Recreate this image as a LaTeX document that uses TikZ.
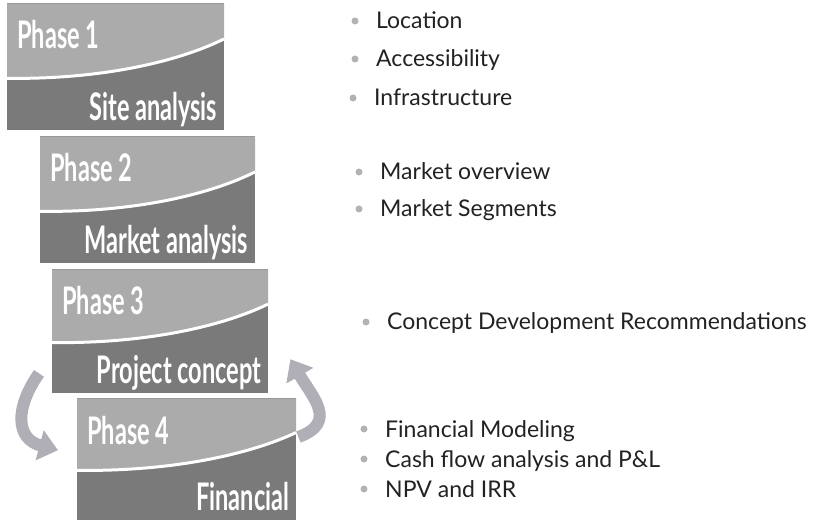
\documentclass[tikz,border=0pt]{standalone}
\usepackage{fontspec}
\setmainfont{Lato}
\newfontfamily\phasefont[FakeStretch=0.62]{Lato}
\usetikzlibrary{arrows.meta}
\definecolor{lightband}{HTML}{ABABAB}
\definecolor{darkband}{HTML}{7A7A7A}
\definecolor{arrowgray}{HTML}{B0AEB6}
\definecolor{itemtext}{HTML}{222222}

\begin{document}
\begin{tikzpicture}[
    x=1pt, y=1pt,
    % блоки этапов
    phase/.style={rectangle, fill=darkband, inner sep=0pt, anchor=north west},
    phasetitle/.style={font=\phasefont\bfseries\fontsize{38}{38}\selectfont, text=white, inner sep=0pt, anchor=base west},
    phasename/.style={font=\phasefont\bfseries\fontsize{38}{38}\selectfont, text=white, inner sep=0pt, anchor=base east},
    % пункты списка
    item/.style={font=\fontsize{23}{23}\selectfont, text=itemtext, inner sep=0pt, anchor=base west},
    bulletdot/.style={circle, fill=gray!60, inner sep=0pt, minimum size=7pt},
    % круговые стрелки
    cyclearrow/.style={draw=arrowgray, line width=12pt, -{Triangle[width=30pt, length=19pt]}}
]
\useasboundingbox (0,0) rectangle (819,-526);

% Этапы
\foreach \n/\l/\t/\w/\h/\name in {1/7/3/217/127/Site analysis, 2/40/136/215/127/Market analysis, 3/52/269/216/124/Project concept, 4/77/398/219/122/Financial} {
    \node[phase, minimum width=\w pt, minimum height=\h pt] (p\n) at (\l,-\t) {};
    \begin{scope}[shift={(p\n.south west)}, x=\w pt, y=\h pt]
        \clip (0,0) rectangle (1,1);
        \fill[lightband] (0,1) -- (1,1) -- (1,0.72) .. controls (0.8,0.55) and (0.45,0.40) .. (0,0.41) -- cycle;
        \draw[white, line width=3pt] (1,0.72) .. controls (0.8,0.55) and (0.45,0.40) .. (0,0.41);
    \end{scope}
    \node[phasetitle, xshift=10pt, yshift=-46pt] (t\n) at (p\n.north west) {Phase \n};
    \node[phasename, xshift=-7pt, yshift=10pt] (s\n) at (p\n.south east) {\name};
}

% Пункты
\foreach \y/\x/\txt in {29/376/Location, 67/376/Accessibility, 106/374/Infrastructure,
    180/380/Market overview, 217/380/Market Segments,
    330/387/Concept Development Recommendations,
    437/385/Financial Modeling, 467/385/Cash flow analysis and P\&L, 497/385/NPV and IRR} {
    \node[item] (i\y) at (\x,-\y) {\txt};
    \node[bulletdot] (b\y) at (\x-21,8-\y) {};
}

% Стрелки между этапами 3 и 4
\draw[cyclearrow] ([xshift=-13pt, yshift=20pt]p3.south west) to[out=235, in=165, looseness=1.4] ([xshift=-19pt, yshift=9pt]p4.west);
\draw[cyclearrow] ([xshift=2pt, yshift=-39pt]p4.north east) to[out=20, in=-60, looseness=1.4] ([xshift=22pt, yshift=-28pt]p3.east);

\end{tikzpicture}
\end{document}
